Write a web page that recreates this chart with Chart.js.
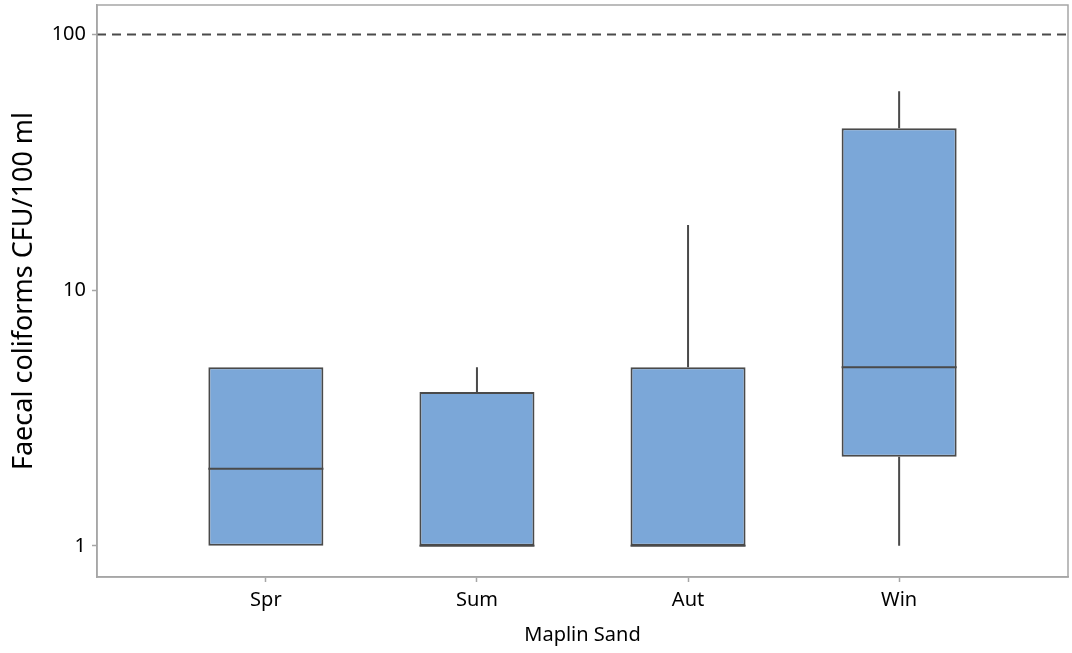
<!DOCTYPE html>
<html>
<head>
<meta charset="utf-8">
<script src="https://cdn.jsdelivr.net/npm/chart.js@4/dist/chart.umd.min.js"></script>
<style>
  html, body { margin: 0; padding: 0; background: #ffffff; }
  #wrap { width: 1072px; height: 653px; position: relative; }
</style>
</head>
<body>
<div id="wrap"><canvas id="chart"></canvas></div>
<script>
// Faecal coliform counts at Maplin Sand, by season (CFU/100 ml)
const seasons      = ['Spr', 'Sum', 'Aut', 'Win'];
const whiskerLow   = [1, 1, 1, 1];
const quartile1    = [1, 1, 1, 2.23];
const medians      = [2, 1, 1, 5];
const quartile3    = [5, 4, 5, 43];
const whiskerHigh  = [5, 5, 18, 60];
const guideline    = 100;
const yTickValues  = [1, 10, 100];
const xTickValues  = [1, 2, 3, 4];

const BOX_FILL   = '#7ba7d8';
const BOX_EDGE   = '#4a4a4a';
const FRAME      = '#a6a6a6';
const TEXT       = '#000000';
const FONT       = '"Noto Sans", "Open Sans", sans-serif';

// whiskers, median lines, guideline and plot frame
const boxExtras = {
  id: 'boxExtras',
  beforeDatasetsDraw(chart) {
    const { ctx, chartArea, scales } = chart;
    const y = scales.y.getPixelForValue(guideline);
    ctx.save();
    ctx.strokeStyle = '#4a4a4a';
    ctx.lineWidth = 2;
    ctx.setLineDash([9, 6]);
    ctx.beginPath();
    ctx.moveTo(chartArea.left, y);
    ctx.lineTo(chartArea.right, y);
    ctx.stroke();
    ctx.restore();
  },
  afterDatasetsDraw(chart) {
    const { ctx, chartArea, scales } = chart;
    const meta = chart.getDatasetMeta(0);
    ctx.save();
    ctx.strokeStyle = BOX_EDGE;
    ctx.lineWidth = 2;
    meta.data.forEach((bar, i) => {
      const cx = bar.x;
      const half = bar.width / 2;
      const yq1 = scales.y.getPixelForValue(quartile1[i]);
      const yq3 = scales.y.getPixelForValue(quartile3[i]);
      const ylo = scales.y.getPixelForValue(whiskerLow[i]);
      const yhi = scales.y.getPixelForValue(whiskerHigh[i]);
      const ymed = scales.y.getPixelForValue(medians[i]);
      ctx.beginPath();
      if (whiskerHigh[i] > quartile3[i]) { ctx.moveTo(cx, yq3); ctx.lineTo(cx, yhi); }
      if (whiskerLow[i] < quartile1[i]) { ctx.moveTo(cx, yq1); ctx.lineTo(cx, ylo); }
      ctx.moveTo(cx - half, ymed);
      ctx.lineTo(cx + half, ymed);
      ctx.stroke();
    });
    ctx.strokeStyle = FRAME;
    ctx.lineWidth = 1.5;
    ctx.strokeRect(chartArea.left, chartArea.top, chartArea.right - chartArea.left, chartArea.bottom - chartArea.top);
    ctx.restore();
  }
};

new Chart(document.getElementById('chart'), {
  type: 'bar',
  data: {
    datasets: [{
      data: seasons.map((s, i) => ({ x: xTickValues[i], y: [quartile1[i], quartile3[i]] })),
      backgroundColor: BOX_FILL,
      borderColor: BOX_EDGE,
      borderWidth: 2,
      borderSkipped: false,
      categoryPercentage: 1,
      barPercentage: 0.545
    }]
  },
  options: {
    responsive: true,
    maintainAspectRatio: false,
    animation: false,
    layout: { padding: { top: 5, right: 4, left: 0, bottom: 0 } },
    plugins: { legend: { display: false }, tooltip: { enabled: false } },
    scales: {
      x: {
        type: 'linear',
        min: 0.2,
        max: 4.8,
        offset: false,
        afterBuildTicks: s => { s.ticks = xTickValues.map(v => ({ value: v })); },
        afterFit: s => { s.height = 76; s.paddingLeft = 0; s.paddingRight = 0; },
        grid: { offset: false, drawOnChartArea: false, drawTicks: true, tickLength: 5, tickColor: FRAME, tickWidth: 1.5 },
        border: { display: true, color: FRAME, width: 1.5 },
        ticks: {
          color: TEXT, padding: 6, maxRotation: 0,
          font: { family: FONT, size: 20 },
          callback: v => seasons[v - 1]
        },
        title: {
          display: true, text: 'Maplin Sand', color: TEXT,
          font: { family: FONT, size: 20 }, padding: { top: 0, bottom: 6 }
        }
      },
      y: {
        type: 'logarithmic',
        min: 0.755,
        max: 130.5,
        afterBuildTicks: s => { s.ticks = yTickValues.map(v => ({ value: v })); },
        afterFit: s => { s.width = 97; s.paddingTop = 0; s.paddingBottom = 0; },
        grid: { drawOnChartArea: false, drawTicks: true, tickLength: 5, tickColor: FRAME, tickWidth: 1.5 },
        border: { display: true, color: FRAME, width: 1.5 },
        ticks: {
          color: TEXT, padding: 6,
          font: { family: FONT, size: 20 },
          callback: v => String(v)
        },
        title: {
          display: true, text: 'Faecal coliforms CFU/100 ml', color: TEXT,
          font: { family: FONT, size: 27 }, padding: { top: 8, bottom: 0 }
        }
      }
    }
  },
  plugins: [boxExtras]
});
</script>
</body>
</html>
